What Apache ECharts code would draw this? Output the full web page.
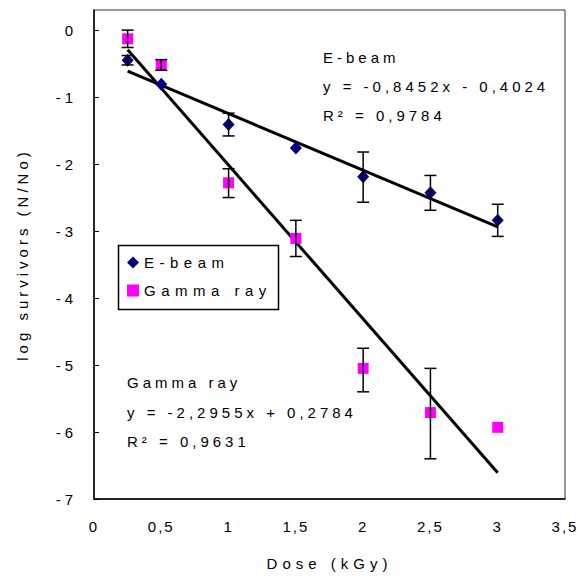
<!DOCTYPE html>
<html><head><meta charset="utf-8">
<script src="https://cdn.jsdelivr.net/npm/echarts@6/dist/echarts.min.js"></script>
<style>
html,body{margin:0;padding:0;background:#fff;}
#main{width:582px;height:576px;}
#main text{letter-spacing:4px;}
</style></head>
<body><div id="main"></div>
<script>
const doses = [0.25, 0.5, 1, 1.5, 2, 2.5, 3];
const eBeam = [-0.45, -0.81, -1.41, -1.76, -2.19, -2.43, -2.84];
const eBeamLow = [-0.52, null, -1.58, null, -2.57, -2.69, -3.08];
const eBeamHigh = [-0.38, null, -1.24, null, -1.82, -2.17, -2.60];
const gamma = [-0.13, -0.52, -2.28, -3.11, -5.05, -5.71, -5.93];
const gammaLow = [-0.26, -0.60, -2.50, -3.38, -5.40, -6.40, null];
const gammaHigh = [0.0, -0.44, -2.07, -2.84, -4.75, -5.05, null];
const eTrend = [[0.25, -0.614], [3, -2.938]];
const gTrend = [[0.25, -0.295], [3, -6.608]];
const seriesNames = ['E-beam', 'Gamma ray'];
const eBeamNote = ['E-beam', 'y = -0,8452x - 0,4024', 'R² = 0,9784'];
const gammaNote = ['Gamma ray', 'y = -2,2955x + 0,2784', 'R² = 0,9631'];

const FONT = '"Liberation Sans", Arial, sans-serif';
const chart = echarts.init(document.getElementById('main'), null, {renderer: 'svg'});

function errData(lo, hi) {
  const out = [];
  doses.forEach((d, i) => { if (lo[i] !== null) out.push([d, lo[i], hi[i]]); });
  return out;
}
function errRender(params, api) {
  const x = api.value(0), lo = api.value(1), hi = api.value(2);
  const p1 = api.coord([x, hi]), p2 = api.coord([x, lo]);
  const w = 6;
  const st = {stroke: '#000', lineWidth: 1.5};
  return {type: 'group', children: [
    {type: 'line', shape: {x1: p1[0], y1: p1[1], x2: p2[0], y2: p2[1]}, style: st},
    {type: 'line', shape: {x1: p1[0]-w, y1: p1[1], x2: p1[0]+w, y2: p1[1]}, style: st},
    {type: 'line', shape: {x1: p2[0]-w, y1: p2[1], x2: p2[0]+w, y2: p2[1]}, style: st}
  ]};
}
const txt = {fontFamily: FONT, fontSize: 15, fill: '#000'};

chart.setOption({
  animation: false,
  backgroundColor: '#fff',
  grid: {left: 94, right: 17, top: 10, bottom: 77, show: true, borderColor: '#333', borderWidth: 1},
  xAxis: {
    type: 'value', min: 0, max: 3.5, interval: 0.5,
    name: 'Dose (kGy)', nameLocation: 'middle', nameGap: 57,
    nameTextStyle: {fontFamily: FONT, fontSize: 15, color: '#000'},
    axisLine: {onZero: false, lineStyle: {color: '#000', width: 1.5}},
    axisTick: {show: false},
    splitLine: {show: false},
    axisLabel: {fontFamily: FONT, fontSize: 15, color: '#000', margin: 20,
      formatter: v => String(v).replace('.', ',')}
  },
  yAxis: {
    type: 'value', min: -7, max: 0.3, interval: 1,
    name: 'log survivors (N/No)', nameLocation: 'middle', nameGap: 64,
    nameTextStyle: {fontFamily: FONT, fontSize: 15, color: '#000'},
    axisLine: {onZero: false, lineStyle: {color: '#000', width: 1.5}},
    axisTick: {inside: true, length: 5, lineStyle: {color: '#000'}},
    splitLine: {show: false},
    axisLabel: {fontFamily: FONT, fontSize: 15, color: '#000', margin: 17, showMaxLabel: false,
      formatter: v => Number.isInteger(v) ? String(v) : ''}
  },
  legend: {
    orient: 'vertical', left: 122, top: 250, itemWidth: 12, itemHeight: 12, itemGap: 13,
    textStyle: {fontFamily: FONT, fontSize: 15, color: '#000'},
    data: [{name: seriesNames[0], icon: 'diamond'}, {name: seriesNames[1], icon: 'rect'}]
  },
  graphic: [
    {type: 'rect', left: 116, top: 243, shape: {width: 160, height: 64}, style: {fill: 'none', stroke: '#000', lineWidth: 1.5}, silent: true},
    {type: 'text', left: 323, top: 43, style: Object.assign({text: eBeamNote.join('\n'), lineHeight: 29}, txt)},
    {type: 'text', left: 127, top: 368, style: Object.assign({text: gammaNote.join('\n'), lineHeight: 29.5}, txt)}
  ],
  series: [
    {name: 'E-beam trend', type: 'line', data: eTrend, symbol: 'none', lineStyle: {color: '#000', width: 3}, z: 2, silent: true},
    {name: 'Gamma trend', type: 'line', data: gTrend, symbol: 'none', lineStyle: {color: '#000', width: 3}, z: 2, silent: true},
    {name: seriesNames[0], type: 'scatter', data: doses.map((d, i) => [d, eBeam[i]]), symbol: 'diamond', symbolSize: [12, 13], itemStyle: {color: '#000080', opacity: 1}, z: 3},
    {name: seriesNames[1], type: 'scatter', data: doses.map((d, i) => [d, gamma[i]]), symbol: 'rect', symbolSize: 11, itemStyle: {color: '#ff00ff', opacity: 1}, z: 3},
    {name: 'E-beam err', type: 'custom', data: errData(eBeamLow, eBeamHigh), renderItem: errRender, z: 4, silent: true},
    {name: 'Gamma err', type: 'custom', data: errData(gammaLow, gammaHigh), renderItem: errRender, z: 4, silent: true}
  ]
});

function tuneSpacing() {
  document.querySelectorAll('#main text').forEach(el => {
    const t = el.textContent.trim();
    const r = el.getBoundingClientRect();
    if (/^[-\d,]+$/.test(t) && r.top > 505) el.style.letterSpacing = '2px';
    else if (/^[-\d]+$/.test(t) && r.left < 90) el.style.letterSpacing = '4px';
    else if (t === 'Dose (kGy)') el.style.letterSpacing = '5px';
    else if (seriesNames.includes(t) && r.top > 240 && r.top < 310 && r.left < 200) el.style.letterSpacing = '5.5px';
  });
}
tuneSpacing();
chart.on('finished', tuneSpacing);
setTimeout(tuneSpacing, 50);
</script></body></html>
